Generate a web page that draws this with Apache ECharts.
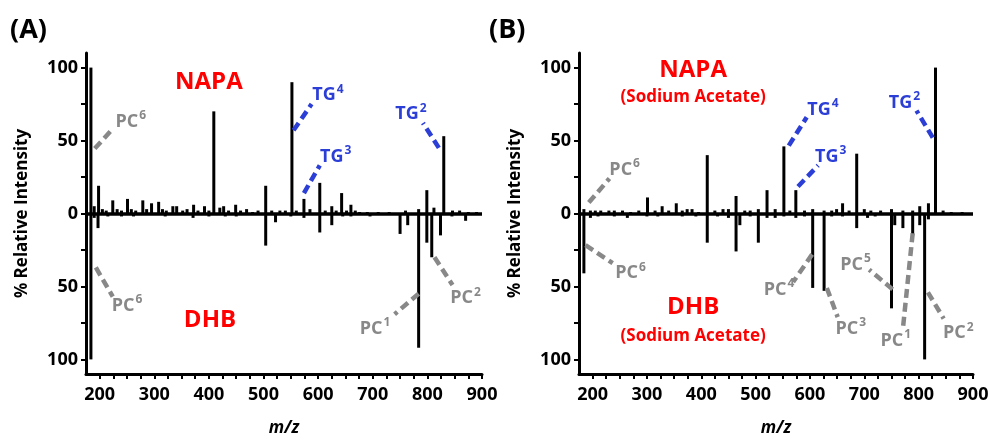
<!DOCTYPE html>
<html>
<head>
<meta charset="utf-8">
<script src="https://cdn.jsdelivr.net/npm/echarts@6/dist/echarts.min.js"></script>
<style>html,body{margin:0;padding:0;background:#fff}#c{width:988px;height:441px}</style>
</head>
<body>
<div id="c"></div>
<script>
// ---------- Panel A (NAPA up / DHB down) ----------
const mzA_up  = [184,190,198,205,212,224,232,240,251,258,266,279,286,295,308,315,322,334,341,352,360,372,380,392,400,409,420,427,436,449,458,469,480,490,504,515,530,540,552,560,574,585,603,613,625,633,643,652,660,668,676,690,710,730,760,784,799,812,830,846,859,875,890];
const intA_up = [100,5,19,3,2,9,3,2,10,3,2,9,3,7,8,3,2,5,5,2,3,6,2,5,2,70,4,5,2,6,2,3,1,2,19,2,2,2,90,2,10,3,21,2,5,2,14,2,6,2,1,1,1,1,2,3,16,4,53,2,2,1,1];
const mzA_dn  = [184,190,197,215,240,262,290,320,350,371,400,430,450,470,504,522,550,574,603,625,645,660,695,720,750,764,784,799,808,824,845,870];
const intA_dn = [-100,-3,-10,-2,-2,-2,-1,-2,-1,-3,-2,-2,-2,-1,-22,-6,-2,-3,-13,-8,-2,-2,-2,-1,-14,-8,-92,-20,-30,-15,-2,-5];

// ---------- Panel B (NAPA up / DHB down, sodium acetate) ----------
const mzB_up  = [184,196,205,215,230,240,255,270,285,301,315,328,340,354,365,374,383,395,411,425,440,450,464,480,490,505,521,536,552,563,574,590,605,626,640,649,660,672,686,700,712,730,750,771,789,802,818,831,845,860,880];
const intB_up = [3,2,2,2,2,2,2,1,2,11,2,5,2,7,2,3,3,1,40,2,3,3,12,2,2,3,16,3,46,2,16,2,3,2,2,3,7,2,41,3,2,2,3,2,2,5,7,100,2,1,1];
const mzB_dn  = [184,196,210,225,240,264,280,300,320,340,365,390,411,430,450,464,471,490,505,521,536,552,574,590,605,626,640,660,686,706,720,750,756,771,789,802,811,818,840];
const intB_dn = [-41,-3,-2,-1,-2,-3,-1,-2,-2,-1,-2,-2,-20,-2,-3,-26,-8,-2,-20,-3,-3,-2,-3,-2,-51,-53,-2,-2,-10,-3,-2,-65,-8,-10,-15,-8,-100,-4,-1];

// ---------- Axis ticks / labels ----------
const xLabels = [200,300,400,500,600,700,800,900];
const xTicks = [200,225,250,275,300,325,350,375,400,425,450,475,500,525,550,575,600,625,650,675,700,725,750,775,800,825,850,875,900];
const yLabels = [-100,-50,0,50,100];
const yTicks = [-100,-75,-50,-25,0,25,50,75,100];

// ---------- Annotations (data coordinates) ----------
const annA = [
  {t:'PC', s:'6', c:'grey', from:[191,44.5], to:[224,58], at:[257,64]},
  {t:'PC', s:'6', c:'grey', from:[193,-37], to:[224,-57], at:[250,-62]},
  {t:'TG', s:'4', c:'blue', from:[555,57], to:[588,75], at:[618,82]},
  {t:'TG', s:'3', c:'blue', from:[574,14], to:[603,33], at:[632,40]},
  {t:'TG', s:'2', c:'blue', from:[821,45], to:[792,62], at:[770,69]},
  {t:'PC', s:'1', c:'grey', from:[784,-55], to:[740,-69], at:[704,-78]},
  {t:'PC', s:'2', c:'grey', from:[813,-30], to:[846,-49], at:[870,-57]}
];
const annB = [
  {t:'PC', s:'6', c:'grey', from:[193,7.5], to:[231,24], at:[259,31]},
  {t:'PC', s:'6', c:'grey', from:[187,-21.6], to:[237,-34], at:[270,-40]},
  {t:'TG', s:'4', c:'blue', from:[561,46.5], to:[594,66], at:[624,72]},
  {t:'TG', s:'3', c:'blue', from:[578,18.5], to:[615,33], at:[638,40]},
  {t:'TG', s:'2', c:'blue', from:[826,52], to:[796,70.5], at:[774,77]},
  {t:'PC', s:'4', c:'grey', from:[604,-28], to:[569,-47], at:[543,-51]},
  {t:'PC', s:'3', c:'grey', from:[631,-51], to:[651,-71], at:[675,-78]},
  {t:'PC', s:'5', c:'grey', from:[752,-52], to:[709,-38.5], at:[684,-34]},
  {t:'PC', s:'1', c:'grey', from:[789,-13.5], to:[771,-79], at:[758,-86]},
  {t:'PC', s:'2', c:'grey', from:[817,-54], to:[846,-72], at:[873,-81]}
];
const titlesA = [
  {t:'NAPA', size:'big', at:[400,90]},
  {t:'DHB', size:'big', at:[402,-73]}
];
const titlesB = [
  {t:'NAPA', size:'big', at:[385,98]},
  {t:'(Sodium Acetate)', size:'small', at:[385,79.5]},
  {t:'DHB', size:'big', at:[385,-64]},
  {t:'(Sodium Acetate)', size:'small', at:[385,-84]}
];
const panelLetters = ['(A)','(B)'];

// ---------- Styles ----------
const FONT = 'Open Sans';
const COLORS = {grey:'#888888', blue:'#2b3ed6', red:'#ff0000'};

function pairs(mz, v){ return mz.map((m,i)=>[m, v[i]]); }

function annLines(ann){
  return ann.map(a => [
    {coord:a.from, lineStyle:{color:COLORS[a.c], width:4.5, type:[9,5]}},
    {coord:a.to}
  ]);
}
function annTexts(ann, titles){
  const pts = ann.map(a => ({
    coord:a.at,
    label:{
      show:true, position:'inside',
      formatter:'{b|'+a.t+'}{s|'+a.s+'}',
      rich:{
        b:{fontFamily:FONT, fontSize:18, fontWeight:'bold', color:COLORS[a.c], lineHeight:21, verticalAlign:'bottom'},
        s:{fontFamily:FONT, fontSize:12, fontWeight:'bold', color:COLORS[a.c], lineHeight:21, verticalAlign:'top', padding:[0,0,0,1]}
      }
    }
  }));
  titles.forEach(t => pts.push({
    coord:t.at,
    label:{show:true, position:'inside', formatter:t.t, fontFamily:FONT, fontWeight:'bold',
      fontSize: t.size==='big'?24:17, color:COLORS.red}
  }));
  return pts;
}

function panelSeries(i, up, dn, ann, titles){
  const base = {type:'bar', xAxisIndex:i, yAxisIndex:i, barWidth:3, barGap:'-100%',
    itemStyle:{color:'#000'}, silent:true};
  return [
    Object.assign({}, base, {data:pairs(up[0], up[1])}),
    Object.assign({}, base, {data:pairs(dn[0], dn[1]),
      markLine:{silent:true, symbol:['none','none'], label:{show:false}, animation:false,
        data:[[{coord:[175,0], lineStyle:{color:'#000', width:3.5, type:'solid'}},{coord:[900,0]}]].concat(annLines(ann))},
      markPoint:{silent:true, symbol:'circle', symbolSize:0, itemStyle:{color:'rgba(0,0,0,0)'}, animation:false,
        data:annTexts(ann, titles)}
    })
  ];
}

function xAx(i){
  return {gridIndex:i, type:'value', min:175, max:900,
    name:'m/z', nameLocation:'middle', nameGap:46,
    nameTextStyle:{fontFamily:FONT, fontSize:17, fontStyle:'italic', fontWeight:'bold', color:'#000'},
    axisLine:{onZero:false, lineStyle:{color:'#000', width:3}},
    axisTick:{customValues:xTicks, length:5, lineStyle:{color:'#000', width:2}},
    axisLabel:{customValues:xLabels, fontFamily:FONT, fontSize:18, fontWeight:'bold', color:'#000', margin:12},
    splitLine:{show:false}};
}
function yAx(i){
  return {gridIndex:i, type:'value', min:-110, max:110,
    name:'% Relative Intensity', nameLocation:'middle', nameGap:55, nameRotate:90,
    nameTextStyle:{fontFamily:FONT, fontSize:17, fontWeight:'bold', color:'#000'},
    axisLine:{onZero:false, lineStyle:{color:'#000', width:3}},
    axisTick:{customValues:yTicks, length:5, lineStyle:{color:'#000', width:2}},
    axisLabel:{customValues:yLabels, formatter:v=>String(Math.abs(v)), fontFamily:FONT, fontSize:18, fontWeight:'bold', color:'#000', margin:8},
    splitLine:{show:false}};
}

const chart = echarts.init(document.getElementById('c'), null, {renderer:'canvas'});
chart.setOption({
  animation:false,
  backgroundColor:'#fff',
  textStyle:{fontFamily:FONT},
  title:[
    {text:panelLetters[0], left:5, top:12, textStyle:{fontFamily:FONT, fontSize:27, fontWeight:'bold', color:'#000'}},
    {text:panelLetters[1], left:484, top:12, textStyle:{fontFamily:FONT, fontSize:27, fontWeight:'bold', color:'#000'}}
  ],
  grid:[
    {left:86, top:53, width:396, height:321, containLabel:false, outerBoundsMode:'none'},
    {left:579, top:53, width:394, height:321, containLabel:false, outerBoundsMode:'none'}
  ],
  xAxis:[xAx(0), xAx(1)],
  yAxis:[yAx(0), yAx(1)],
  series:[].concat(
    panelSeries(0, [mzA_up, intA_up], [mzA_dn, intA_dn], annA, titlesA),
    panelSeries(1, [mzB_up, intB_up], [mzB_dn, intB_dn], annB, titlesB)
  )
});
</script>
</body>
</html>
